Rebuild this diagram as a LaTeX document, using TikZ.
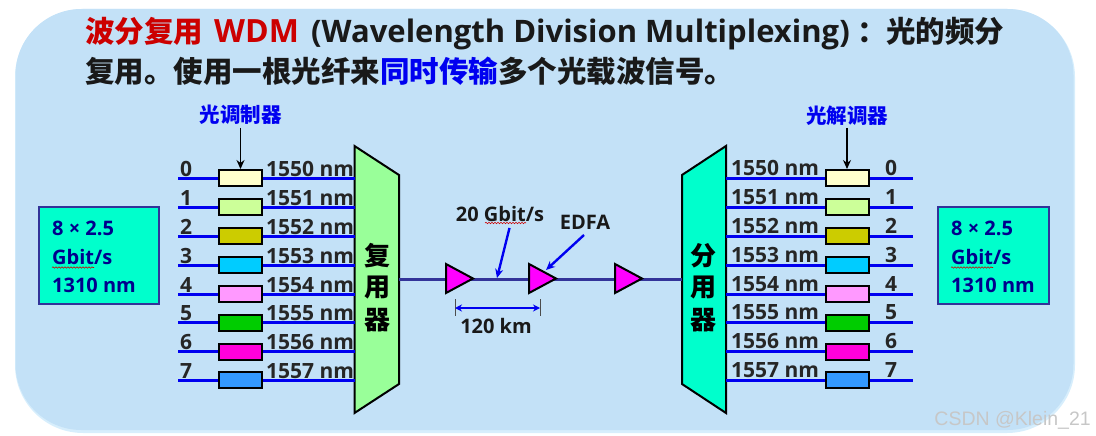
\documentclass[tikz,border=0pt]{standalone}
\usepackage{fontspec}
\usepackage{tikz}
\usetikzlibrary{arrows.meta,decorations.pathmorphing}
\setmainfont{Open Sans}
\newfontfamily\cjk{Noto Sans CJK SC}
\newfontfamily\markfont{Liberation Sans}
\definecolor{panelblue}{RGB}{195,225,247}
\definecolor{panelglow}{RGB}{215,238,252}
\definecolor{muxgreen}{RGB}{153,255,153}
\definecolor{demuxteal}{RGB}{0,255,204}
\definecolor{fibreblue}{RGB}{51,51,153}
\definecolor{linkblue}{RGB}{0,0,240}
\definecolor{textnavy}{RGB}{0,0,140}
\definecolor{titlered}{RGB}{204,0,0}
\definecolor{ampfill}{RGB}{255,0,255}
\newcommand{\wavy}[2]{\draw[red!80!black,line width=0.6pt,decorate,decoration={snake,amplitude=0.7pt,segment length=3pt}] (#1) -- (#2);}
\tikzset{
  wave/.style={line width=3pt,draw=linkblue},
  modbox/.style={draw=black,line width=2pt,minimum width=43pt,minimum height=16pt,inner sep=0pt},
  wavelabel/.style={font=\fontsize{21}{22}\selectfont\bfseries,text=black!85,inner sep=0pt,anchor=base},
  ratebox/.style={draw=fibreblue,line width=2.2pt,fill=demuxteal,inner sep=0pt},
  ratelabel/.style={font=\fontsize{20}{22}\selectfont\bfseries,text=textnavy,inner sep=0pt,anchor=base west},
  amp/.style={draw=black,line width=2pt,fill=ampfill,line join=miter},
  toplabel/.style={font=\fontsize{20.5}{22}\selectfont\cjk\bfseries,text=linkblue,inner sep=0pt},
  muxlabel/.style={font=\fontsize{26}{28}\selectfont\cjk\bfseries,text=black,inner sep=0pt},
  note/.style={font=\fontsize{20}{22}\selectfont\bfseries,text=black!90,inner sep=0pt},
  callout/.style={-{Stealth[length=9pt,width=8pt]},line width=2.4pt,draw=linkblue},
  pointer/.style={-{Stealth[length=9pt,width=8pt]},line width=1.2pt,draw=black},
  titleline/.style={anchor=base west,inner sep=0pt,font=\fontsize{29.5}{30}\selectfont\bfseries,text=black!90}
}
\begin{document}
\begin{tikzpicture}[x=1pt,y=-1pt]
  \useasboundingbox (0,0) rectangle (1096,436);
  \fill[panelglow,rounded corners=68pt] (15,9) rectangle (1075,433);
  \fill[panelblue,rounded corners=66pt] (15.5,9) rectangle (1073.5,430);
  % title
  \node[titleline,text=titlered] (titlea) at (85,43) {\cjk 波分复用};
  \node[titleline,text=titlered,font=\fontsize{32}{32}\selectfont\bfseries] (titlewdm) at (214,43) {WDM};
  \node[titleline,font=\fontsize{31}{32}\selectfont\bfseries] (titleen) at (311,43) {(Wavelength Division Multiplexing)};
  \node[titleline] (titlecolon) at (857,43) {\cjk ：};
  \node[titleline] (titleend) at (886,43) {\cjk 光的频分};
  \node[titleline] (titleb) at (85,82)
    {\cjk 复用。使用一根光纤来\textcolor{linkblue}{同时传输}多个光载波信号。};
  % rate boxes
  \node[ratebox,minimum width=120pt,minimum height=97pt] (ratel) at (99,255.5) {};
  \node[ratebox,minimum width=111pt,minimum height=97pt] (rater) at (993.5,255.5) {};
  \foreach \bx/\tx in {ratel/52,rater/951} {
    \node[ratelabel] (\bx a) at (\tx,235) {8 × 2.5};
    \node[ratelabel] (\bx b) at (\tx,264) {Gbit/s};
    \node[ratelabel] (\bx c) at (\tx,292) {1310 nm};
    \wavy{\tx,267.5}{\tx+42,267.5}
  }
  % mux and demux
  \draw[fill=muxgreen,line width=2pt] (354.5,146) coordinate (muxa) -- (399,175) -- (399,384) -- (354.5,413) coordinate (muxb) -- cycle;
  \draw[fill=demuxteal,line width=2pt] (726,146) coordinate (demuxa) -- (682,175) -- (682,384) -- (726,413) coordinate (demuxb) -- cycle;
  \node[muxlabel] (muxt) at (377.5,256) {复};
  \node[muxlabel] (muxu) at (377.5,288) {用};
  \node[muxlabel] (muxv) at (377.5,320) {器};
  \node[muxlabel] (demuxt) at (703,256) {分};
  \node[muxlabel] (demuxu) at (703,288) {用};
  \node[muxlabel] (demuxv) at (703,320) {器};
  % eight wavelengths
  \foreach \i/\ypos/\col in {0/178/{255,255,204},1/207/{204,255,153},2/236/{204,204,0},3/265/{0,204,255},4/294/{255,153,255},5/322.7/{0,204,0},6/351.5/{255,0,220},7/380/{51,153,255}} {
    \definecolor{boxcol}{RGB}{\col}
    \coordinate (inl\i) at (178,\ypos);
    \coordinate (muxin\i) at (354.5,\ypos);
    \coordinate (outr\i) at (913,\ypos);
    \coordinate (demuxout\i) at (726,\ypos);
    \draw[wave] (inl\i) -- (muxin\i);
    \draw[wave] (demuxout\i) -- (outr\i);
    \node[modbox,fill=boxcol] (modl\i) at (240.5,\ypos) {};
    \node[modbox,fill=boxcol] (modr\i) at (847,\ypos) {};
    \pgfmathtruncatemacro{\lam}{1550+\i}
    \node[wavelabel,anchor=base west] (laml\i) at (266,\ypos-2) {\lam{} nm};
    \node[wavelabel,anchor=base west] (lamr\i) at (731,\ypos-3) {\lam{} nm};
    \node[wavelabel] (numl\i) at (186,\ypos-2) {\i};
    \node[wavelabel] (numr\i) at (891,\ypos-3) {\i};
  }
  % modulator labels
  \node[toplabel] (modlabel) at (240.5,115) {光调制器};
  \node[toplabel] (demodlabel) at (847,116) {光解调器};
  \draw[pointer] (modlabel.south) ++(0,3) coordinate (modtip) -- (modl0.north);
  \draw[pointer] (demodlabel.south) ++(0,2) coordinate (demodtip) -- (modr0.north);
  % fibre and amplifiers
  \coordinate (fibl) at (399,279);
  \coordinate (fibr) at (682,279);
  \draw[line width=3pt,draw=fibreblue] (fibl) -- (fibr);
  \draw[amp] (446,264) coordinate (ampa) -- (473,278.5) coordinate (ampa tip) -- (446,293) -- cycle;
  \draw[amp] (529,264) coordinate (ampb) -- (556,278.5) coordinate (ampb tip) -- (529,293) -- cycle;
  \draw[amp] (615,264) coordinate (ampc) -- (642,278.5) coordinate (ampc tip) -- (615,293) -- cycle;
  % span
  \coordinate (spana) at (455,308);
  \coordinate (spanb) at (540,308);
  \draw[black!70,line width=1pt] (455,299) -- (455,316);
  \draw[black!70,line width=1pt] (540,299) -- (540,316);
  \draw[{Stealth[length=7pt,width=7pt]}-{Stealth[length=7pt,width=7pt]},line width=2.2pt,draw=linkblue] (spana) -- (spanb);
  \node[note] (spanlabel) at (496,326) {120 km};
  % notes
  \node[note] (ratenote) at (500,214) {20 Gbit/s};
  \wavy{485,223}{526,223}
  \node[note] (edfa) at (585,222) {EDFA};
  \coordinate (ratetip) at (497,278);
  \coordinate (edfatip) at (546,270);
  \draw[callout] (509.5,228) -- (ratetip);
  \draw[callout] (584,235) -- (edfatip);
  % watermark
  \node[anchor=base east,inner sep=0pt,font=\fontsize{19.5}{20}\selectfont\markfont,text=black!22] (mark) at (1091,425) {CSDN @Klein\_21};
\end{tikzpicture}
\end{document}
